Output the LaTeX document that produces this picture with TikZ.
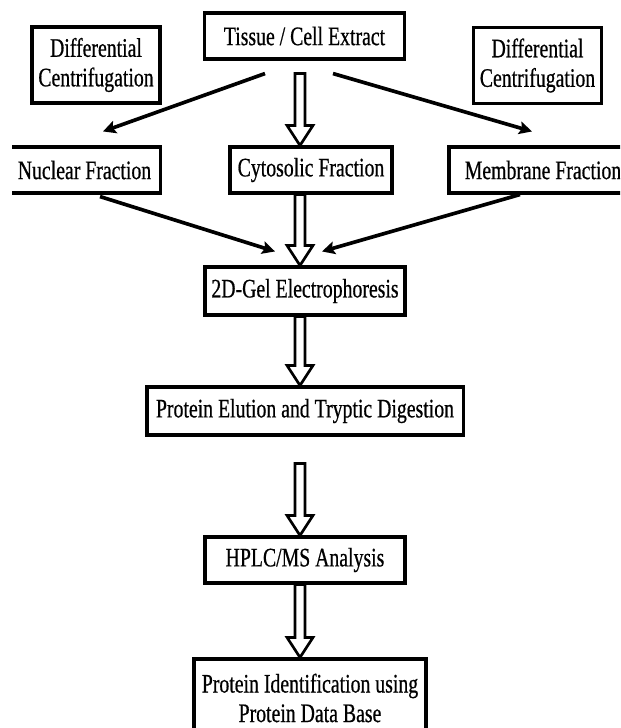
\documentclass[tikz,border=0pt]{standalone}
\usepackage{fontspec}
\setmainfont{Liberation Serif}[FakeStretch=0.74,FakeBold=0.6]
\usetikzlibrary{arrows.meta,calc}

\tikzset{
  stepbox/.style={draw,line width=2.2pt,inner sep=0pt,align=center,
    font=\fontsize{19}{21}\selectfont},
  thinarrow/.style={line width=2.6pt,-{Stealth[length=3.2mm,width=3.2mm,inset=0.6mm]}},
  hollow/.style={line width=1.9pt,line join=miter,fill=white}
}

% open block arrow straight down the middle column
\newcommand{\hollowarrow}[3]{%
  \coordinate (ha-s) at ($(axis |- #1.south)+(0,#3)$);
  \coordinate (ha-t) at (axis |- #2.north);
  \draw[hollow] ($(ha-s)+(-5,0)$) -- ($(ha-t)+(-5,-20)$) -- ($(ha-t)+(-13,-20)$)
    -- (ha-t) -- ($(ha-t)+(13,-20)$) -- ($(ha-t)+(5,-20)$) -- ($(ha-s)+(5,0)$) -- cycle;}

\begin{document}
\begin{tikzpicture}[x=0.025cm,y=-0.025cm]
  \fill[white] (0,0) rectangle (620,728);
  \useasboundingbox (0,0) rectangle (620,728);
  \clip (12,0) rectangle (620,728);
  \coordinate (axis) at (300,0);

  % top row
  \node[stepbox,minimum width=4.98cm,minimum height=1.15cm] (tissue) at (304.5,36) {Tissue / Cell Extract};
  \node[stepbox,minimum width=3.2cm,minimum height=1.9cm] (diffL) at (96,65) {Differential\\Centrifugation};
  \node[stepbox,minimum width=3.22cm,minimum height=1.92cm] (diffR) at (537.5,65.5) {Differential\\Centrifugation};

  % fractions
  \node[stepbox,minimum width=3.82cm,minimum height=1.15cm] (nuclear) at (84.5,170) {Nuclear Fraction};
  \node[stepbox,minimum width=4.05cm,minimum height=1.15cm] (cyto) at (311,170) {Cytosolic Fraction};
  \node[stepbox,minimum width=4.7cm,minimum height=1.15cm] (membrane) at (543,170) {Membrane Fraction};

  % main column
  \node[stepbox,minimum width=5cm,minimum height=1.2cm] (gel) at (305,291) {2D-Gel Electrophoresis};
  \node[stepbox,minimum width=7.9cm,minimum height=1.2cm] (elution) at (305,411) {Protein Elution and Tryptic Digestion};
  \node[stepbox,minimum width=5cm,minimum height=1.15cm] (hplc) at (305,560) {HPLC/MS Analysis};
  \node[stepbox,minimum width=5.8cm,minimum height=1.95cm] (ident) at (310,698) {Protein Identification using\\Protein Data Base};

  % side arrows
  \draw[thinarrow] ($(tissue.south)+(-39.5,13)$) -- ($(nuclear.north)+(18.5,-14)$);
  \draw[thinarrow] ($(tissue.south)+(28.5,13)$) -- ($(membrane.north)+(-11,-14)$);
  \draw[thinarrow] ($(nuclear.south)+(15.5,2)$) -- ($(gel.north)+(-30,-14)$);
  \draw[thinarrow] ($(membrane.south)+(-23,0)$) -- ($(gel.north)+(17,-14)$);

  % block arrows
  \hollowarrow{tissue}{cyto}{13}
  \hollowarrow{cyto}{gel}{0}
  \hollowarrow{gel}{elution}{0}
  \hollowarrow{elution}{hplc}{27}
  \hollowarrow{hplc}{ident}{0}
\end{tikzpicture}
\end{document}
